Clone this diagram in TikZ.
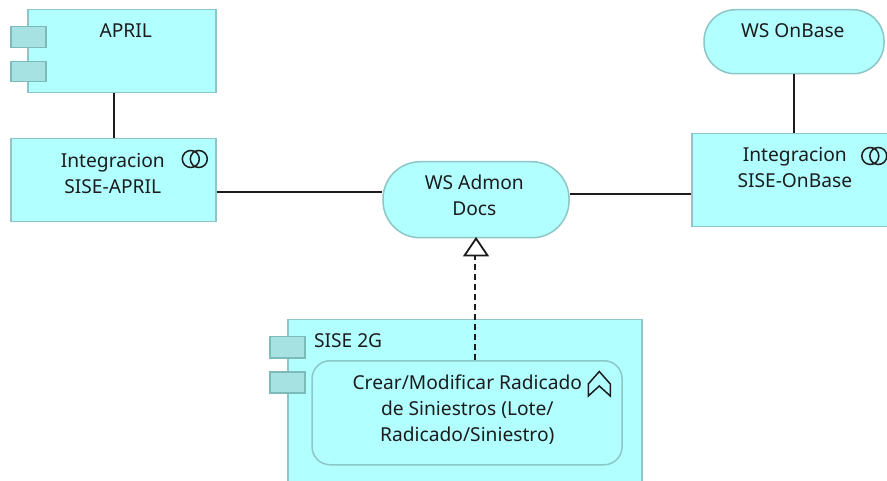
\documentclass[tikz,border=0pt]{standalone}
\usepackage{fontspec}
\setmainfont{Noto Sans}
\definecolor{boxfill}{HTML}{B2FFFF}
\definecolor{boxline}{HTML}{8CC6C6}
\definecolor{tabfill}{HTML}{A6E2E2}
\definecolor{tabline}{HTML}{7DBABA}
\definecolor{ink}{HTML}{1C1C1C}
\tikzset{
  x=1pt,y=-1pt,
  shapebase/.style={draw=boxline,fill=boxfill,line width=1.5pt,inner sep=0pt,anchor=north west},
  box/.style={shapebase,rectangle},
  pill/.style={shapebase,rectangle,rounded corners=#1},
  tabbox/.style={draw=tabline,fill=tabfill,line width=1.5pt,rectangle,inner sep=0pt,anchor=north west,minimum width=35pt,minimum height=21pt},
  txt/.style={font=\fontsize{19.2}{26}\selectfont,text=ink,inner sep=0pt,align=center},
  conn/.style={draw=ink,line width=1.9pt},
  icon/.style={draw=ink,line width=1.5pt},
}
\begin{document}
\begin{tikzpicture}
\useasboundingbox (0,0) rectangle (887,481);
\fill[white] (0,0) rectangle (887,481);
\clip (0,0) rectangle (887,481);
\begin{scope}[xshift=-0.7pt]
% component APRIL
\node[box,minimum width=188pt,minimum height=83pt] (april) at (28,9) {};
\node[tabbox] (apriltaba) at (11,26) {};
\node[tabbox,minimum height=20pt] (apriltabb) at (11,61) {};
\node[txt] (apriltext) at (126.5,31) {APRIL};
% collaboration SISE-APRIL
\node[box,minimum width=205pt,minimum height=83pt] (intega) at (11,138) {};
\node[txt] (integatext) at (113.5,174) {Integracion\\SISE-APRIL};
% service WS Admon
\node[pill=37pt,minimum width=186pt,minimum height=76pt] (admon) at (383,161) {};
\node[txt] (admontext) at (475,195.5) {WS Admon\\Docs};
% service OnBase
\node[pill=31pt,minimum width=180pt,minimum height=64pt] (onbase) at (704,9) {};
\node[txt] (onbasetext) at (793.5,31) {WS OnBase};
% collaboration OnBase
\node[box,minimum width=230pt,minimum height=93pt] (integb) at (692,133) {};
\node[txt] (integbtext) at (795.5,168) {Integracion\\SISE-OnBase};
% component SISE
\node[box,minimum width=354pt,minimum height=200pt] (sise) at (288,319) {};
\node[tabbox] (sisetaba) at (270,336) {};
\node[tabbox] (sisetabb) at (270,371) {};
\node[txt,anchor=west] (sisetext) at (314.5,341) {SISE 2G};
% inner function
\node[pill=18pt,minimum width=310pt,minimum height=104pt] (func) at (312,360) {};
\node[txt] (functext) at (468,409.5) {Crear/Modificar Radicado\\de Siniestros (Lote/\\Radicado/Siniestro)};
% icons
\draw[icon] (191.5,159) circle (8.5) (199.5,159) circle (8.5);
\draw[icon] (871,156) circle (8.5) (879,156) circle (8.5);
\draw[icon,line join=miter] (600,371.5) -- (611,384) -- (611,396) -- (600,386) -- (589,396) -- (589,384) -- cycle;
% connectors
\draw[conn] (intega.north) -- (intega.north |- april.south);
\draw[conn] ([yshift=-11.5pt]intega.east) -- ([yshift=8pt]admon.west);
\draw[conn] ([yshift=6pt]admon.east) -- ([yshift=-13.5pt]integb.west);
\draw[conn] (onbase.south) -- (onbase.south |- integb.north);
\draw[conn,dash pattern=on 6pt off 4pt] ([xshift=-0.8pt]admon.south |- func.north) -- ([xshift=-0.8pt,yshift=-17pt]admon.south);
\draw[icon,fill=white,line width=1.8pt,line join=miter] (admon.south) -- ++(11.5,17) -- ++(-23,0) -- cycle;
\end{scope}
\end{tikzpicture}
\end{document}
